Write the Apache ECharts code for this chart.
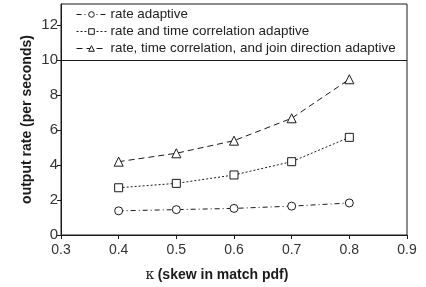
<!DOCTYPE html>
<html>
<head>
<meta charset="utf-8">
<script src="https://cdn.jsdelivr.net/npm/echarts@6/dist/echarts.min.js"></script>
<style>
  html, body { margin: 0; padding: 0; background: #fff; }
  #chart { width: 426px; height: 287px; }
</style>
</head>
<body>
<div id="chart"></div>
<script>
// 数据
const kappa = [0.4, 0.5, 0.6, 0.7, 0.8]
const rateAdaptive = [1.38, 1.45, 1.52, 1.65, 1.83]
const rateTimeAdaptive = [2.7, 2.95, 3.43, 4.19, 5.58]
const rateTimeJoinAdaptive = [4.19, 4.67, 5.39, 6.67, 8.9]
const seriesNames = [
  'rate adaptive',
  'rate and time correlation adaptive',
  'rate, time correlation, and join direction adaptive',
]
const legendSplit = 10 // 图例框下边线

const font = 'Liberation Sans, Arial, sans-serif'
const ink = '#1a1a1a'

const pairs = (ys) => kappa.map((x, i) => [x, ys[i]])

const hollow = { color: '#fff', borderColor: ink, borderWidth: 1 }

const chart = echarts.init(document.getElementById('chart'), null, { renderer: 'canvas' })
chart.setOption({
  animation: false,
  backgroundColor: '#fff',
  grid: {
    left: 61,
    right: 19,
    top: 4,
    bottom: 52,
    show: true,
    borderColor: ink,
    borderWidth: 1,
    containLabel: false,
  },
  legend: {
    orient: 'vertical',
    left: 71,
    top: 3,
    itemWidth: 30,
    itemHeight: 7,
    itemGap: 4,
    data: seriesNames,
    lineStyle: { width: 1 },
    itemStyle: { borderWidth: 1 },
    textStyle: { fontFamily: font, fontSize: 13.4, color: '#222', padding: [0, 0, 0, -1] },
  },
  xAxis: {
    type: 'value',
    min: 0.3,
    max: 0.9,
    interval: 0.1,
    name: '{k|κ} {b|(skew in match pdf)}',
    nameLocation: 'middle',
    nameGap: 33,
    nameMoveOverlap: false,
    nameTextStyle: {
      padding: [0, 34, 0, 0],
      rich: {
        k: { fontFamily: 'DejaVu Serif, serif', fontSize: 14, color: ink },
        b: { fontFamily: font, fontSize: 14, fontWeight: 'bold', color: ink },
      },
    },
    axisLine: { lineStyle: { color: ink } },
    axisTick: { inside: false, length: 4, lineStyle: { color: ink } },
    axisLabel: { fontFamily: font, fontSize: 14, color: '#333', margin: 8, formatter: (v) => v.toFixed(1) },
    splitLine: { show: false },
  },
  yAxis: {
    type: 'value',
    min: 0,
    max: 13.2,
    interval: 2,
    name: 'output rate (per seconds)',
    nameLocation: 'middle',
    nameGap: 27,
    nameMoveOverlap: false,
    nameTextStyle: { fontFamily: font, fontSize: 14, fontWeight: 'bold', color: ink },
    axisLine: { show: true, lineStyle: { color: ink } },
    axisTick: { show: true, length: 4, lineStyle: { color: ink } },
    axisLabel: { fontFamily: font, fontSize: 15, color: '#333', margin: 3, showMaxLabel: false },
    splitLine: { show: false },
  },
  series: [
    {
      name: seriesNames[0],
      type: 'line',
      data: pairs(rateAdaptive),
      symbol: 'circle',
      symbolSize: 8,
      itemStyle: hollow,
      lineStyle: { color: ink, width: 1, type: [5, 3, 1, 3] },
      markLine: {
        silent: true,
        symbol: 'none',
        label: { show: false },
        lineStyle: { color: ink, width: 1, type: 'solid' },
        data: [{ yAxis: legendSplit }],
      },
    },
    {
      name: seriesNames[1],
      type: 'line',
      data: pairs(rateTimeAdaptive),
      symbol: 'rect',
      symbolSize: 8,
      itemStyle: hollow,
      lineStyle: { color: ink, width: 1, type: [2, 2] },
    },
    {
      name: seriesNames[2],
      type: 'line',
      data: pairs(rateTimeJoinAdaptive),
      symbol: 'triangle',
      symbolSize: 9,
      itemStyle: hollow,
      lineStyle: { color: ink, width: 1, type: [6, 4] },
    },
  ],
})
</script>
</body>
</html>
